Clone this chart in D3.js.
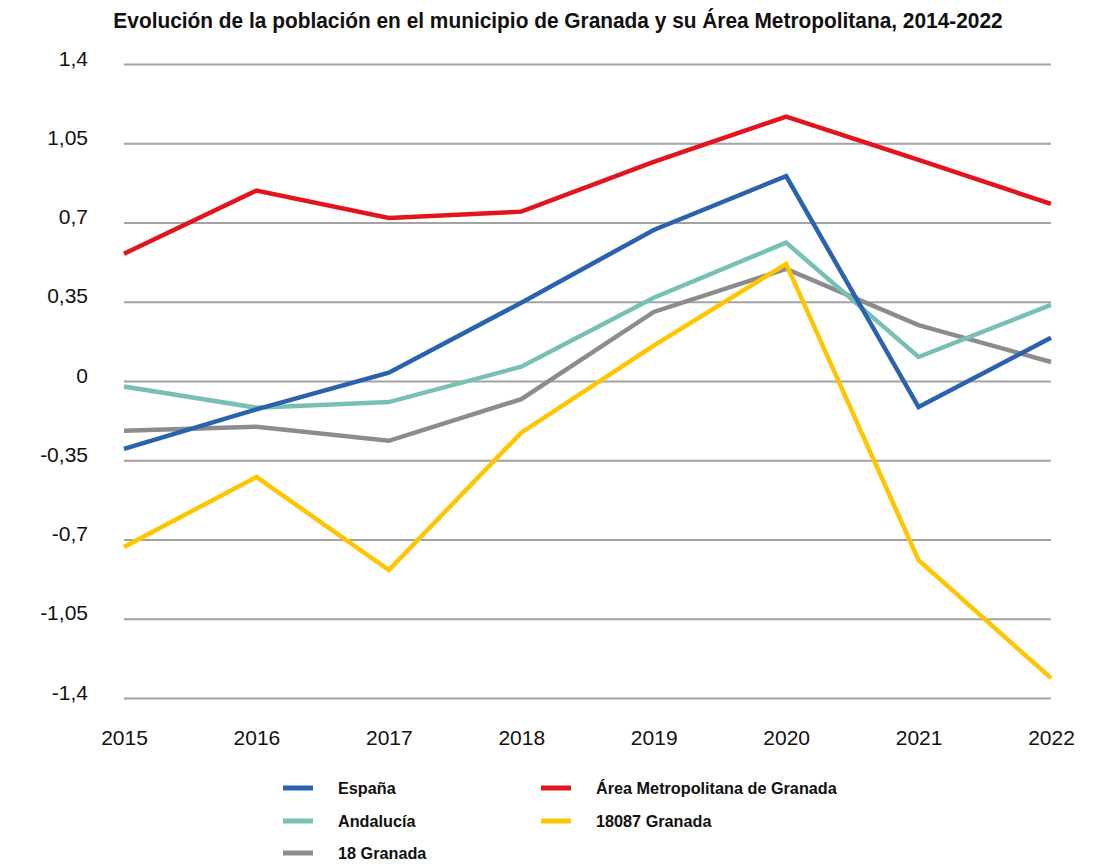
<!DOCTYPE html>
<html>
<head>
<meta charset="utf-8">
<script src="https://cdn.jsdelivr.net/npm/d3@7"></script>
<style>
  body { margin: 0; background: #fff; }
  svg { display: block; }
</style>
</head>
<body>
<svg id="chart" width="1106" height="864"></svg>
<script>
'use strict';

// data
var years = ['2015', '2016', '2017', '2018', '2019', '2020', '2021', '2022'];
var espana = [-0.30, -0.125, 0.037, 0.346, 0.667, 0.905, -0.115, 0.191];
var andalucia = [-0.024, -0.118, -0.093, 0.063, 0.368, 0.611, 0.106, 0.336];
var granadaProv = [-0.22, -0.202, -0.264, -0.08, 0.305, 0.495, 0.247, 0.084];
var areaMetro = [0.562, 0.841, 0.72, 0.748, 0.968, 1.168, 0.977, 0.782];
var granadaMun = [-0.733, -0.424, -0.835, -0.228, 0.156, 0.517, -0.791, -1.312];
var yTicks = [-1.4, -1.05, -0.7, -0.35, 0, 0.35, 0.7, 1.05, 1.4];

var seriesNames = ['España', 'Andalucía', '18 Granada', 'Área Metropolitana de Granada', '18087 Granada'];
var seriesValues = [espana, andalucia, granadaProv, areaMetro, granadaMun];
var seriesColors = ['#2962ae', '#76c0b4', '#8c8c8c', '#e3141d', '#ffc600'];
// drawing order (bottom to top)
var drawOrder = [2, 1, 4, 3, 0];

var titleText = 'Evolución de la población en el municipio de Granada y su Área Metropolitana, 2014-2022';

var svg = d3.select('#chart');
var plotLeft = 124, plotRight = 1051, plotTop = 64, plotBottom = 698;
var regular = '"Liberation Sans", Arial, Helvetica, sans-serif';

var x = d3.scalePoint().domain(years).range([plotLeft, plotRight]);
var y = d3.scaleLinear().domain([-1.4, 1.4]).range([plotBottom, plotTop]);

/**
 * Squeeze a text horizontally (no condensed font is installed)
 */
var squeeze = function(sel, cx, factor) {
    sel.attr('transform', 'translate(' + cx + ',0) scale(' + factor + ',1) translate(' + (-cx) + ',0)');
};

// title, condensed to the reference width
var title = svg.append('text')
    .attr('x', 558)
    .attr('y', 28)
    .attr('text-anchor', 'middle')
    .attr('font-family', regular)
    .attr('font-weight', 'bold')
    .attr('font-size', 22.5)
    .attr('fill', '#111')
    .text(titleText);
squeeze(title, 558, 890 / title.node().getComputedTextLength());

// y axis with gridlines
var yAxis = d3.axisLeft(y)
    .tickValues(yTicks)
    .tickSize(-(plotRight - plotLeft))
    .tickPadding(36)
    .tickFormat(function(d) { return String(d).replace('.', ','); });

var gy = svg.append('g')
    .attr('transform', 'translate(' + plotLeft + ',0)')
    .call(yAxis);
gy.select('.domain').remove();
gy.selectAll('.tick line')
    .attr('stroke', '#a3a3a3')
    .attr('stroke-width', 2);
gy.selectAll('.tick text')
    .attr('font-family', regular)
    .attr('font-size', 21)
    .attr('fill', '#111')
    .attr('dy', '1px');

// x axis labels
var xAxis = d3.axisBottom(x).tickSize(0).tickPadding(32);
var gx = svg.append('g')
    .attr('transform', 'translate(0,' + plotBottom + ')')
    .call(xAxis);
gx.select('.domain').remove();
gx.selectAll('.tick text')
    .attr('font-family', regular)
    .attr('font-size', 21)
    .attr('fill', '#111');

// lines
var line = d3.line()
    .x(function(d, i) { return x(years[i]); })
    .y(function(d) { return y(d); });

drawOrder.forEach(function(k) {
    svg.append('path')
        .datum(seriesValues[k])
        .attr('d', line)
        .attr('fill', 'none')
        .attr('stroke', seriesColors[k])
        .attr('stroke-width', 4.5)
        .attr('stroke-linejoin', 'miter');
});

// legend: three rows, column-major
var legendCols = [283, 541];
var legendRows = [788, 821, 853];
var legendTexts = [];
seriesNames.forEach(function(name, i) {
    var col = Math.floor(i / 3);
    var row = i % 3;
    var lx = legendCols[col];
    var ly = legendRows[row];
    svg.append('line')
        .attr('x1', lx)
        .attr('x2', lx + 30)
        .attr('y1', ly)
        .attr('y2', ly)
        .attr('stroke', seriesColors[i])
        .attr('stroke-width', 5);
    var t = svg.append('text')
        .attr('x', lx + 55)
        .attr('y', ly + 6)
        .attr('font-family', regular)
        .attr('font-weight', 'bold')
        .attr('font-size', 17)
        .attr('fill', '#111')
        .text(name);
    legendTexts.push({ sel: t, x: lx + 55 });
});
// same squeeze for every legend label, set by the longest one
var longest = legendTexts[3].sel.node().getComputedTextLength();
legendTexts.forEach(function(d) {
    squeeze(d.sel, d.x, 241 / longest);
});
</script>
</body>
</html>
